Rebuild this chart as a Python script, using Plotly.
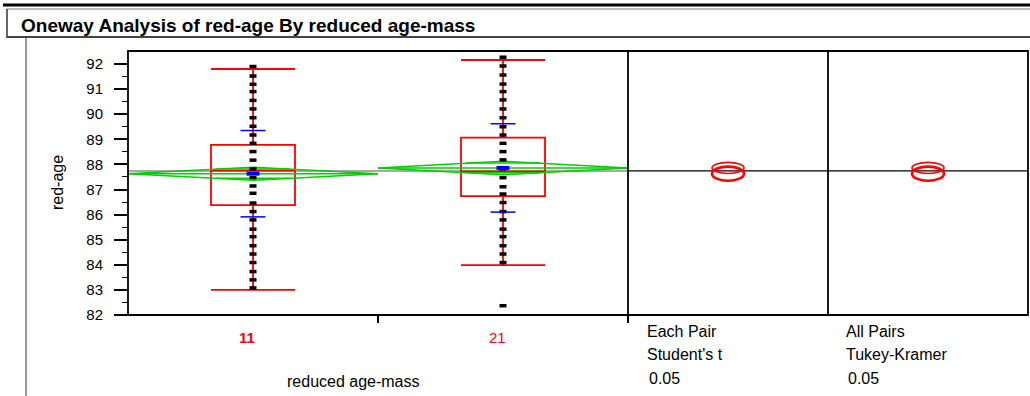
import plotly.graph_objects as go

# ---------------- data ----------------
categories = ["11", "21"]
points_11 = [91.90, 91.52, 91.19, 90.90, 90.55, 90.21, 89.86, 89.52, 89.17, 88.84,
             88.51, 88.17, 87.82, 87.47, 87.14, 86.85, 86.46, 86.12, 85.79, 85.42,
             85.12, 84.76, 84.43, 84.09, 83.73, 83.40, 83.08]
points_21 = [92.27, 91.92, 91.56, 91.20, 90.90, 90.57, 90.21, 89.86, 89.50, 89.17,
             88.84, 88.51, 88.18, 87.82, 87.47, 87.11, 86.82, 86.48, 86.12, 85.79,
             85.42, 85.12, 84.76, 84.43, 84.09, 82.37]
group_points = [points_11, points_21]
means = [87.63, 87.86]
std_devs = [1.72, 1.76]
q1 = [86.38, 86.74]
medians = [87.75, 87.72]
q3 = [88.78, 89.07]
lower_whisker = [83.00, 83.99]
upper_whisker = [91.80, 92.16]
diamond_half = [0.26, 0.27]
circle_radius = [0.28, 0.22]
grand_mean = 87.74
y_ticks = list(range(82, 93))
test_labels = [["Each Pair", "Student's t", "0.05"], ["All Pairs", "Tukey-Kramer", "0.05"]]
title_text = "Oneway Analysis of red-age By reduced age-mass"
x_title = "reduced age-mass"
y_title = "red-age"

# ---------------- geometry ----------------
W, H = 1030, 396
L, R, T, B = 128, 2, 51, 81
PW, PH = W - L - R, H - T - B


def px2x(px):
    return (px - L) / PW


def py2y(py):
    return (H - B - py) / PH


FONT = "Arial, Liberation Sans, sans-serif"
RED = "#ff0000"
GREEN = "#00d000"
BLUE = "#0000ff"

d1 = px2x(628)
d2 = px2x(828)

fig = go.Figure()

# mean diamonds
dx, dy = [], []
for i, m in enumerate(means):
    c = i + 0.5
    h = diamond_half[i]
    o = h / 2 ** 0.5
    dx += [c - 0.5, c, c + 0.5, c, c - 0.5, None, c - 0.5, c + 0.5, None,
           c - 0.147, c + 0.147, None, c - 0.147, c + 0.147, None]
    dy += [m, m + h, m, m - h, m, None, m, m, None, m + o, m + o, None, m - o, m - o, None]
fig.add_trace(go.Scatter(x=dx, y=dy, mode="lines", line=dict(color=GREEN, width=1.5),
                         hoverinfo="skip", showlegend=False, xaxis="x", yaxis="y"))

# boxes
for i, cat in enumerate(categories):
    fig.add_trace(go.Box(x=[i + 0.5], q1=[q1[i]], median=[medians[i]], q3=[q3[i]],
                         lowerfence=[lower_whisker[i]], upperfence=[upper_whisker[i]],
                         width=0.336, whiskerwidth=1, boxpoints=False,
                         line=dict(color=RED, width=1.8), fillcolor="rgba(0,0,0,0)",
                         showlegend=False, name=cat, xaxis="x", yaxis="y"))

# points
px_, py_ = [], []
for i, pts in enumerate(group_points):
    px_ += [i + 0.5] * len(pts)
    py_ += pts
fig.add_trace(go.Scatter(x=px_, y=py_, mode="markers",
                         marker=dict(symbol="line-ew", size=5, line=dict(color="black", width=3.5)),
                         showlegend=False, xaxis="x", yaxis="y"))

# std dev marks and means
sx, sy, mx, my = [], [], [], []
for i, m in enumerate(means):
    c = i + 0.5
    for v in (m + std_devs[i], m - std_devs[i]):
        sx += [c - 0.05, c + 0.05, None]
        sy += [v, v, None]
    mx += [c - 0.026, c + 0.026, None]
    my += [m, m, None]
fig.add_trace(go.Scatter(x=sx, y=sy, mode="lines", line=dict(color=BLUE, width=1.5),
                         showlegend=False, xaxis="x", yaxis="y"))
fig.add_trace(go.Scatter(x=mx, y=my, mode="lines", line=dict(color=BLUE, width=4),
                         showlegend=False, xaxis="x", yaxis="y"))

# empty traces for comparison panels
for ax in ("x2", "x3"):
    fig.add_trace(go.Scatter(x=[0.5], y=[grand_mean], mode="markers", marker=dict(opacity=0),
                             showlegend=False, hoverinfo="skip", xaxis=ax, yaxis="y"))

shapes = []
# grand mean lines
shapes.append(dict(type="line", xref="paper", yref="y", x0=0, x1=d1, y0=grand_mean, y1=grand_mean,
                   line=dict(color="#8c8c8c", width=1.5), layer="below"))
shapes.append(dict(type="line", xref="paper", yref="y", x0=d1, x1=1, y0=grand_mean, y1=grand_mean,
                   line=dict(color="black", width=1.2)))
# comparison circles
for ax in ("x2", "x3"):
    for i, m in enumerate(means):
        r = circle_radius[i]
        shapes.append(dict(type="circle", xref=ax, yref="y", x0=0.42, x1=0.58, y0=m - r, y1=m + r,
                           line=dict(color=RED, width=2.6 if i == 0 else 1.6)))
# frame
shapes.append(dict(type="rect", xref="paper", yref="paper", x0=0, x1=1, y0=0, y1=1,
                   line=dict(color="black", width=1.8)))
for d in (d1, d2):
    shapes.append(dict(type="line", xref="paper", yref="paper", x0=d, x1=d, y0=0, y1=1,
                       line=dict(color="black", width=1.8)))
# header decorations
shapes.append(dict(type="line", xref="paper", yref="paper", x0=px2x(3), x1=px2x(1032),
                   y0=py2y(5), y1=py2y(5), line=dict(color="black", width=3)))
shapes.append(dict(type="line", xref="paper", yref="paper", x0=px2x(7), x1=px2x(1032),
                   y0=py2y(9), y1=py2y(9), line=dict(color="#777777", width=1)))
shapes.append(dict(type="line", xref="paper", yref="paper", x0=px2x(7), x1=px2x(7),
                   y0=py2y(9), y1=py2y(38), line=dict(color="black", width=1.2)))
shapes.append(dict(type="line", xref="paper", yref="paper", x0=px2x(7), x1=px2x(1032),
                   y0=py2y(37), y1=py2y(37), line=dict(color="#444444", width=2)))
shapes.append(dict(type="line", xref="paper", yref="paper", x0=px2x(26), x1=px2x(26),
                   y0=py2y(38), y1=py2y(400), line=dict(color="#9a9a9a", width=2)))

annotations = []
annotations.append(dict(text="<b>" + title_text + "</b>", xref="paper", yref="paper",
                        x=px2x(19), y=py2y(25), xanchor="left", yanchor="middle", showarrow=False,
                        font=dict(family=FONT, size=19, color="black")))
annotations.append(dict(text=y_title, xref="paper", yref="paper", x=px2x(57), y=py2y(183),
                        xanchor="center", yanchor="middle", textangle=-90, showarrow=False,
                        font=dict(family=FONT, size=16, color="black")))
annotations.append(dict(text=x_title, xref="paper", yref="paper", x=px2x(353), y=py2y(381),
                        xanchor="center", yanchor="middle", showarrow=False,
                        font=dict(family=FONT, size=16, color="black")))
for i, cat in enumerate(categories):
    annotations.append(dict(text=("<b>%s</b>" % cat) if i == 0 else cat, xref="x", yref="paper",
                            x=i + 0.5, xshift=-6, y=py2y(337), xanchor="center", yanchor="middle",
                            showarrow=False, font=dict(family=FONT, size=15, color=RED)))
for j, lines in enumerate(test_labels):
    x0 = 645 if j == 0 else 844
    for k, t in enumerate(lines):
        annotations.append(dict(text=t, xref="paper", yref="paper",
                                x=px2x(x0 + (2 if k == 2 else 0)), y=py2y(331 + 23.5 * k),
                                xanchor="left", yanchor="middle", showarrow=False,
                                font=dict(family=FONT, size=16, color="black")))

fig.update_layout(
    width=W, height=H, margin=dict(l=L, r=R, t=T, b=B, pad=0),
    paper_bgcolor="white", plot_bgcolor="white", showlegend=False,
    shapes=shapes, annotations=annotations,
    xaxis=dict(domain=[0, d1], range=[0, 2], type="linear", tickvals=[1, 2], ticktext=["", ""],
               ticks="outside", ticklen=7, tickwidth=1.8, tickcolor="black",
               showgrid=False, zeroline=False, showline=False, anchor="y"),
    xaxis2=dict(domain=[d1, d2], range=[0, 1], showticklabels=False, ticks="",
                showgrid=False, zeroline=False, showline=False, anchor="y"),
    xaxis3=dict(domain=[d2, 1], range=[0, 1], showticklabels=False, ticks="",
                showgrid=False, zeroline=False, showline=False, anchor="y"),
    yaxis=dict(domain=[0, 1], range=[82, 92.518], tickvals=y_ticks, ticks="outside", ticklen=13,
               tickwidth=1.5, tickcolor="black", ticklabelstandoff=8,
               minor=dict(tickvals=[v + 0.5 for v in y_ticks[:-1]], ticks="outside", ticklen=5,
                          tickwidth=1.2, tickcolor="black", showgrid=False),
               tickfont=dict(family=FONT, size=15, color="black"),
               showgrid=False, zeroline=False, showline=False),
)

fig.write_html("out.html", config={"displayModeBar": False},
               post_script="document.body.style.margin='0px';document.body.style.overflow='hidden';")
